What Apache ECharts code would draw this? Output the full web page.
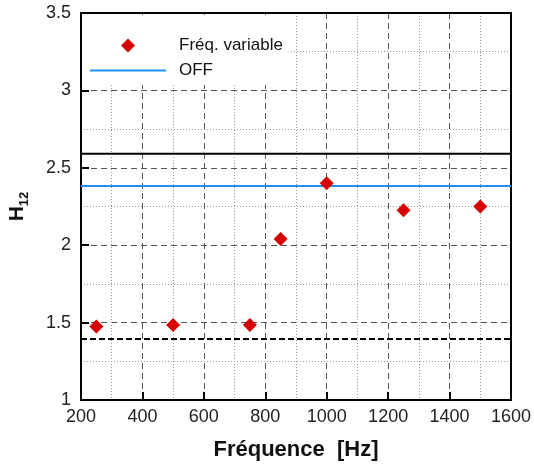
<!DOCTYPE html>
<html><head><meta charset="utf-8">
<script src="https://cdn.jsdelivr.net/npm/echarts@6/dist/echarts.min.js"></script>
<style>html,body{margin:0;padding:0;background:#fff}#c{width:534px;height:465px}</style>
</head><body><div id="c"></div>
<script>
const freqs = [250, 500, 750, 850, 1000, 1250, 1500];
const h12Values = [1.474, 1.484, 1.484, 2.04, 2.40, 2.225, 2.25];
const offLevel = 2.382;
const upperLimit = 2.59;
const lowerLimit = 1.394;
const xRange = [200, 1600];
const yRange = [1, 3.5];
const seriesNames = ['Fréq. variable', 'OFF'];

const FONT = '"Liberation Sans", Arial, sans-serif';
const chart = echarts.init(document.getElementById('c'), null, {renderer: 'canvas'});
const hline = v => [[xRange[0], v], [xRange[1], v]];
const legendText = {fontFamily: FONT, fontSize: 17, color: '#111'};
chart.setOption({
  animation: false,
  backgroundColor: '#fff',
  grid: {left: 81, top: 13, width: 430, height: 387, containLabel: false, outerBoundsMode: 'none'},
  legend: [{
    data: [{name: seriesNames[0], icon: 'diamond'}],
    left: 82, top: 15,
    padding: [22, 8, 31, 39],
    itemWidth: 14, itemHeight: 14,
    backgroundColor: '#fff',
    textStyle: Object.assign({padding: [0, 0, 0, 39]}, legendText),
    z: 4
  }, {
    data: [{name: seriesNames[1], icon: 'rect'}],
    left: 90, top: 62,
    padding: 0,
    itemWidth: 76, itemHeight: 2,
    textStyle: Object.assign({padding: [0, 0, 0, 8]}, legendText),
    z: 6
  }],
  xAxis: [{
    type: 'value', min: xRange[0], max: xRange[1], interval: 200,
    name: 'Fréquence  [Hz]', nameLocation: 'middle', nameGap: 39,
    nameTextStyle: {fontFamily: FONT, fontSize: 22, fontWeight: 'bold', color: '#111'},
    axisLine: {lineStyle: {color: '#000', width: 2}},
    axisTick: {inside: true, length: 8, lineStyle: {color: '#000', width: 2}},
    axisLabel: {fontFamily: FONT, fontSize: 18, color: '#222', margin: 8, formatter: v => String(v)},
    splitLine: {show: true, lineStyle: {color: '#555', width: 1, type: [6, 4]}},
    minorTick: {show: false, splitNumber: 2},
    minorSplitLine: {show: true, lineStyle: {color: '#999', width: 1, type: [1, 2]}}
  }, {
    type: 'value', position: 'top', min: xRange[0], max: xRange[1],
    axisLine: {show: true, lineStyle: {color: '#000', width: 2}},
    axisTick: {show: false}, axisLabel: {show: false}, splitLine: {show: false}
  }],
  yAxis: [{
    type: 'value', min: yRange[0], max: yRange[1], interval: 0.5,
    name: '{h|H}{s|12}', nameLocation: 'middle', nameGap: 50, nameRotate: 90,
    nameTextStyle: {
      color: '#111',
      rich: {
        h: {fontFamily: FONT, fontSize: 21, fontWeight: 'bold', color: '#111', verticalAlign: 'top'},
        s: {fontFamily: FONT, fontSize: 13, fontWeight: 'bold', color: '#111', padding: [11, 0, 0, 0], verticalAlign: 'bottom'}
      }
    },
    axisLine: {lineStyle: {color: '#000', width: 2}},
    axisTick: {inside: true, length: 8, lineStyle: {color: '#000', width: 2}},
    axisLabel: {fontFamily: FONT, fontSize: 18, color: '#222', margin: 10},
    splitLine: {show: true, lineStyle: {color: '#555', width: 1, type: [6, 4]}},
    minorTick: {show: false, splitNumber: 2},
    minorSplitLine: {show: true, lineStyle: {color: '#999', width: 1, type: [1, 2]}}
  }, {
    type: 'value', position: 'right', min: yRange[0], max: yRange[1],
    axisLine: {show: true, lineStyle: {color: '#000', width: 2}},
    axisTick: {show: false}, axisLabel: {show: false}, splitLine: {show: false}
  }],
  series: [
    {name: seriesNames[0], type: 'scatter', symbol: 'diamond', symbolSize: 14, z: 5,
     itemStyle: {color: '#d50000', opacity: 1},
     data: freqs.map((f, i) => [f, h12Values[i]])},
    {name: seriesNames[1], type: 'line', symbol: 'none', z: 3,
     itemStyle: {color: '#1e8fff'},
     lineStyle: {color: '#1e8fff', width: 2},
     data: hline(offLevel)},
    {name: 'upper', type: 'line', symbol: 'none', z: 3,
     lineStyle: {color: '#000', width: 2},
     data: hline(upperLimit)},
    {name: 'lower', type: 'line', symbol: 'none', z: 3,
     lineStyle: {color: '#000', width: 2, type: [6, 3]},
     data: hline(lowerLimit)}
  ]
});
</script></body></html>
